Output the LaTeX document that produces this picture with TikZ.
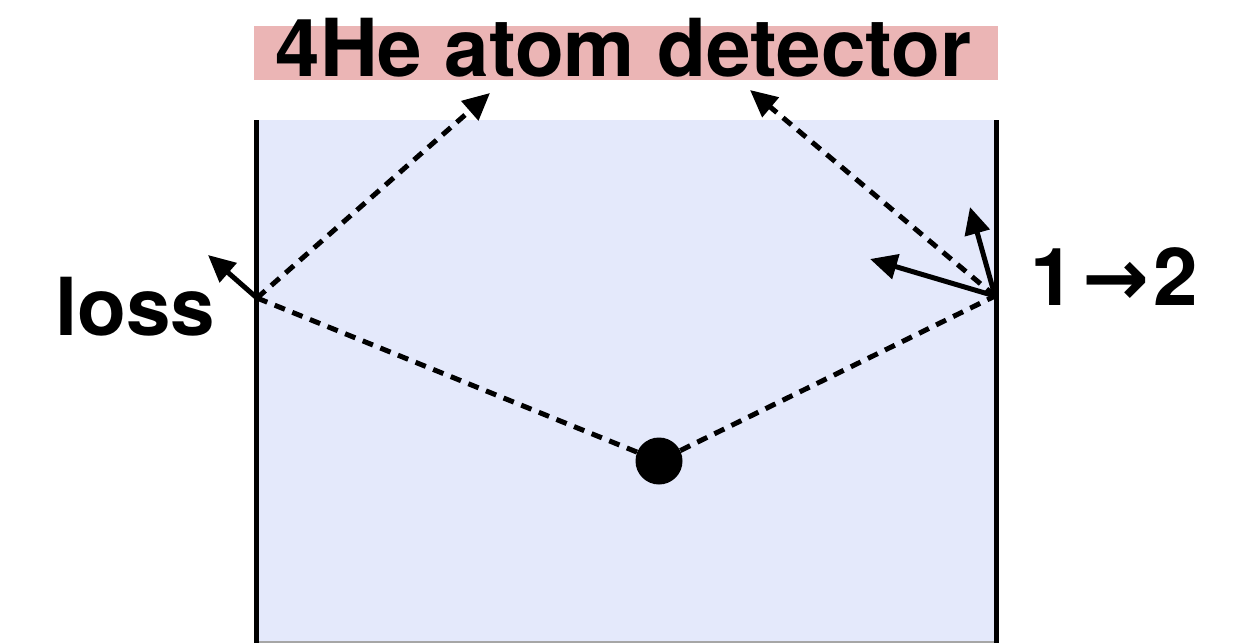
\documentclass[tikz,border=0pt]{standalone}
\usepackage{fontspec}
\setmainfont{TeX Gyre Heros}
\newfontfamily\arrowfont{DejaVu Sans}
\usetikzlibrary{arrows.meta,positioning}
\definecolor{cellblue}{HTML}{E4E9FB}
\definecolor{detpink}{HTML}{EBB5B5}

\begin{document}
\begin{tikzpicture}[x=1pt,y=-1pt,font=\fontsize{80}{90}\selectfont\bfseries,
  >={Triangle[length=27pt,width=25pt]}]
% ---- styles ----
\tikzstyle{wall}=[line width=5pt]
\tikzstyle{ray}=[->,line width=5pt,dash pattern=on 11pt off 8pt]
\tikzstyle{kick}=[->,line width=5pt]
\tikzstyle{detbar}=[fill=detpink,minimum width=744pt,minimum height=54pt,inner sep=0pt]
\tikzstyle{txt}=[inner sep=0pt]

\useasboundingbox (0,0) rectangle (1244,643);

% ---- cell ----
\fill[cellblue] (257,120) rectangle (996,643);
\draw[gray!70,line width=1.5pt] (257,642) -- (996,642);
\draw[wall] (256,120) -- (256,643);
\draw[wall] (996,120) -- (996,643);

% ---- detector ----
\node[detbar] (det) at (626,53) {};
\node[txt,anchor=base] (dettext) at (623.5,76) {4He atom detector};

% ---- atom and wall hits ----
\node[circle,fill=black,minimum size=47pt,inner sep=0pt] (atom) at (659,461) {};
\coordinate (hitL) at (257,298);
\coordinate (hitR) at (995,296);
\coordinate (upL) at (490,93);
\coordinate (upR) at (750,90);
\coordinate (lossTip) at (208,255);
\coordinate (kickA) at (870,259);
\coordinate (kickB) at (970,207);

\draw[ray,-] (atom) -- (hitL);
\draw[ray,-] (atom) -- (hitR);
\draw[ray] (hitL) -- (upL);
\draw[ray] (hitR) -- (upR);
\draw[kick] (hitL) -- (lossTip);
\draw[kick] (hitR) -- (kickA);
\draw[kick] (hitR) -- (kickB);

% ---- labels ----
\node[txt,anchor=base west] (loss) at (55,335) {loss};
\node[txt,anchor=base west] (trans) at (1030,305)
  {1\kern8pt{\arrowfont\bfseries →}\kern4pt2};

\end{tikzpicture}
\end{document}
